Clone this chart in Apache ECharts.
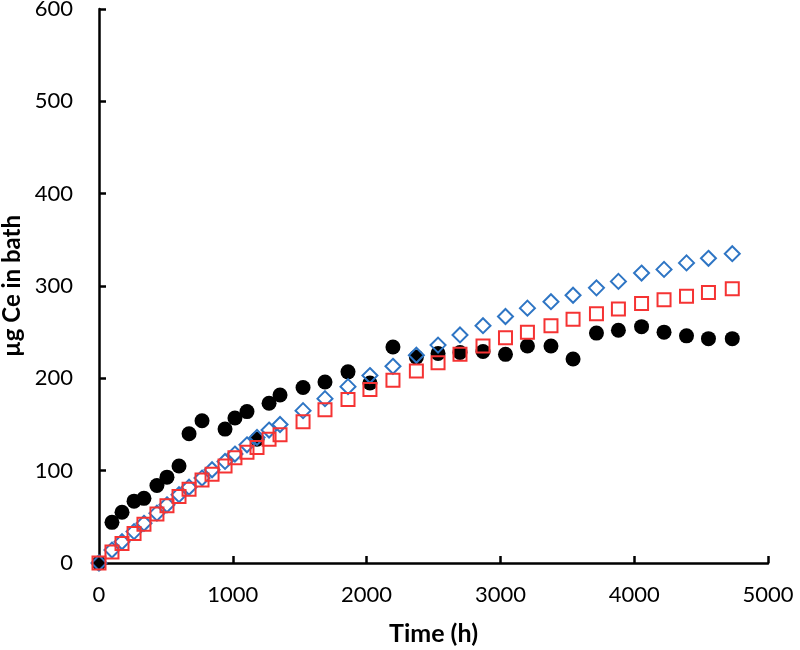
<!DOCTYPE html>
<html><head><meta charset="utf-8">
<script src="https://cdn.jsdelivr.net/npm/echarts@6/dist/echarts.min.js"></script>
<style>html,body{margin:0;padding:0;background:#fff}#c{width:800px;height:650px}</style>
</head><body><div id="c"></div>
<script>
var times = [0, 97, 172, 262, 336, 433, 508, 598, 673, 770, 845, 942, 1016, 1106, 1181, 1271, 1353, 1525, 1689, 1861, 2025, 2197, 2372, 2534, 2698, 2870, 3038, 3202, 3378, 3543, 3718, 3882, 4055, 4223, 4391, 4555, 4733];
var measured = [0, 44, 55, 67, 70, 84, 93, 105, 140, 154, null, 145, 157, 164, 134, 173, 182, 190, 196, 207, 195, 234, 223, 227, 228, 229, 226, 235, 235, 221, 249, 252, 256, 250, 246, 243, 243];
var modelA = [0, 14, 23, 34, 43, 54, 63, 74, 82, 92, 101, 110, 118, 128, 136, 144, 150, 165, 178, 191, 203, 213, 225, 236, 247, 257, 267, 276, 283, 290, 298, 305, 314, 318, 325, 330, 335];
var modelB = [0, 12, 21, 32, 42, 53, 62, 72, 80, 90, 96, 105, 114, 120, 125, 134, 139, 153, 166, 177, 188, 198, 208, 217, 226, 235, 244, 250, 257, 264, 270, 275, 281, 285, 289, 293, 297];

function pairs(vals){
  var out = [];
  for (var i = 0; i < times.length; i++) if (vals[i] !== null) out.push([times[i], vals[i]]);
  return out;
}
var font = 'Lato, "Open Sans", sans-serif';
var chart = echarts.init(document.getElementById('c'));
chart.setOption({
  animation: false,
  grid: {left: 99, right: 32, top: 9, bottom: 87, containLabel: false, outerBoundsMode: 'none'},
  xAxis: {
    type: 'value', min: 0, max: 5000, interval: 1000,
    name: 'Time (h)', nameLocation: 'middle', nameGap: 58,
    nameTextStyle: {fontFamily: font, fontWeight: 'bold', fontSize: 25, color: '#000'},
    axisLine: {lineStyle: {color: '#000', width: 2.5}},
    axisTick: {inside: true, length: 7, lineStyle: {color: '#000', width: 2.5}},
    axisLabel: {fontFamily: font, fontSize: 22, color: '#000', margin: 21,
      formatter: function (v) { return String(v); }},
    splitLine: {show: false}
  },
  yAxis: {
    type: 'value', min: 0, max: 600, interval: 100,
    name: 'µg Ce in bath', nameLocation: 'middle', nameGap: 73,
    nameTextStyle: {fontFamily: font, fontWeight: 'bold', fontSize: 24, color: '#000'},
    axisLine: {show: true, lineStyle: {color: '#000', width: 2.5}},
    axisTick: {show: true, inside: true, length: 7, lineStyle: {color: '#000', width: 2.5}},
    axisLabel: {fontFamily: font, fontSize: 22, color: '#000', margin: 26},
    splitLine: {show: false}
  },
  series: [
    {type: 'scatter', data: pairs(measured), symbol: 'circle', symbolSize: 15,
     itemStyle: {color: '#000', opacity: 1}},
    {type: 'scatter', data: pairs(modelA), symbol: 'diamond', symbolSize: 15,
     itemStyle: {color: 'rgba(255,255,255,0)', borderColor: '#2e75c4', borderWidth: 2, opacity: 1}},
    {type: 'scatter', data: pairs(modelB), symbol: 'rect', symbolSize: 13,
     itemStyle: {color: 'rgba(255,255,255,0)', borderColor: '#f53333', borderWidth: 2, opacity: 1}}
  ]
});
</script></body></html>
